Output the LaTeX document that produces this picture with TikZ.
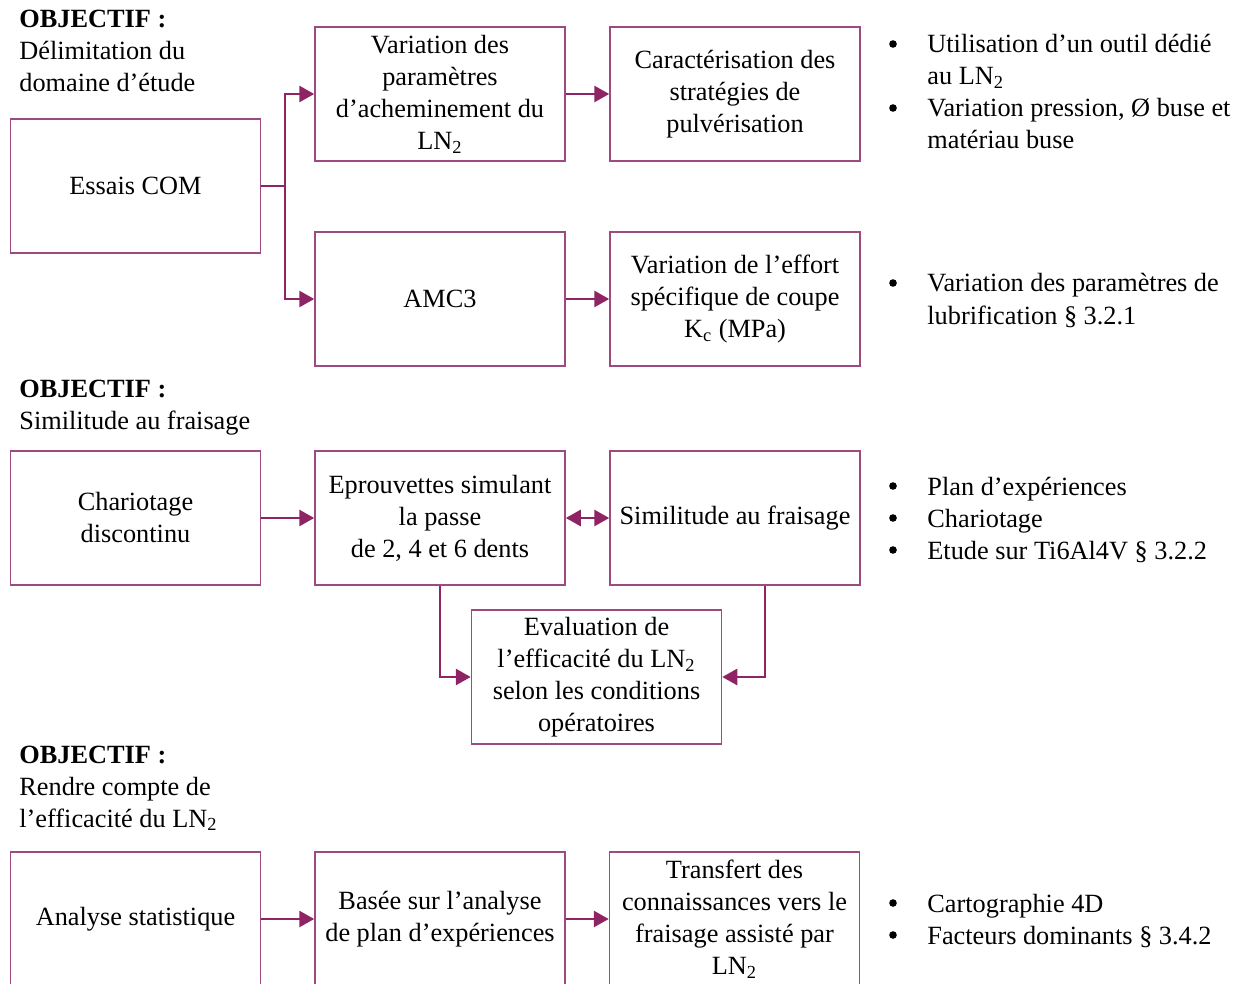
\documentclass[tikz,border=0pt]{standalone}
\usepackage{fontspec}
\setmainfont{Liberation Serif}
\usetikzlibrary{arrows.meta,calc}
\definecolor{plum}{HTML}{8E2464}
\definecolor{plumbox}{HTML}{9E4A80}
\newcommand{\LNdeux}{LN\textsubscript{2}}
\newcommand{\fsz}{\fontsize{13.15}{16}\selectfont}
\begin{document}
\begin{tikzpicture}[x=0.5pt,y=-0.5pt,
  box/.style={draw=plumbox,line width=0.75pt,minimum width=125pt,minimum height=67pt,inner sep=0pt,align=center,font=\fsz},
  arr/.style={draw=plum,line width=1.4pt,-{Triangle[length=7.5pt,width=8pt]}},
  darr/.style={draw=plum,line width=1.4pt,{Triangle[length=7.5pt,width=8pt]}-{Triangle[length=7.5pt,width=8pt]}},
  ln/.style={draw=plum,line width=1.4pt},
  txt/.style={anchor=base west,inner sep=0pt,font=\fsz},
  bul/.style={circle,fill=black,inner sep=0pt,minimum size=3.8pt}]
\useasboundingbox (0,0) rectangle (1247,984);

% headings
\node[txt,font=\fsz\bfseries] (h1a) at (19,28) {OBJECTIF :};
\node[txt] (h1b) at (19,60) {Délimitation du};
\node[txt] (h1c) at (19,92) {domaine d’étude};
\node[txt,font=\fsz\bfseries] (h2a) at (19,397) {OBJECTIF :};
\node[txt] (h2b) at (19,429) {Similitude au fraisage};
\node[txt,font=\fsz\bfseries] (h3a) at (19,763) {OBJECTIF :};
\node[txt] (h3b) at (19,795) {Rendre compte de};
\node[txt] (h3c) at (19,827) {l’efficacité du \LNdeux};

% boxes
\node[box] (com) at (135.5,186) {Essais COM};
\node[box] (var) at (440,94) {Variation des\\paramètres\\d’acheminement du\\\LNdeux};
\node[box] (car) at (735,94) {Caractérisation des\\stratégies de\\pulvérisation};
\node[box] (amc) at (440,299) {AMC3};
\node[box] (eff) at (735,299) {Variation de l’effort\\spécifique de coupe\\K\textsubscript{c} (MPa)};
\node[box] (cha) at (135.5,518) {Chariotage\\discontinu};
\node[box] (epr) at (440,518) {Eprouvettes simulant\\la passe\\de 2, 4 et 6 dents};
\node[box] (sim) at (735,518) {Similitude au fraisage};
\node[box] (eva) at (596.5,677) {Evaluation de\\l’efficacité du \LNdeux\\selon les conditions\\opératoires};
\node[box] (ana) at (135.5,919) {Analyse statistique};
\node[box] (bas) at (440,919) {Basée sur l’analyse\\de plan d’expériences};
\node[box] (tra) at (734.5,919) {Transfert des\\connaissances vers le\\fraisage assisté par\\\LNdeux};

% connectors
\coordinate (j) at (285,186);
\draw[ln] (com.east) -- (j);
\draw[arr] (j) |- (var.west);
\draw[arr] (j) |- (amc.west);
\draw[arr] (var.east) -- (car.west);
\draw[arr] (amc.east) -- (eff.west);
\draw[arr] (cha.east) -- (epr.west);
\draw[darr] (epr.east) -- (sim.west);
\draw[arr] (epr.south) |- (eva.west);
\draw[arr] ($(sim.south)+(30,0)$) |- (eva.east);
\draw[arr] (ana.east) -- (bas.west);
\draw[arr] (bas.east) -- (tra.west);

% bullets
\node[bul] (b1) at (893,44) {};
\node[txt] (t1a) at (927,53) {Utilisation d’un outil dédié};
\node[txt] (t1b) at (927,85) {au \LNdeux};
\node[bul] (b2) at (893,108) {};
\node[txt] (t2a) at (927,117) {Variation pression, Ø buse et};
\node[txt] (t2b) at (927,149) {matériau buse};
\node[bul] (b3) at (893,283) {};
\node[txt] (t3a) at (927,292) {Variation des paramètres de};
\node[txt] (t3b) at (927,324) {lubrification § 3.2.1};
\node[bul] (b4) at (893,486) {};
\node[txt] (t4) at (927,495) {Plan d’expériences};
\node[bul] (b5) at (893,518) {};
\node[txt] (t5) at (927,527) {Chariotage};
\node[bul] (b6) at (893,550) {};
\node[txt] (t6) at (927,559) {Etude sur Ti6Al4V § 3.2.2};
\node[bul] (b7) at (893,903) {};
\node[txt] (t7) at (927,912) {Cartographie 4D};
\node[bul] (b8) at (893,935) {};
\node[txt] (t8) at (927,944) {Facteurs dominants § 3.4.2};
\end{tikzpicture}
\end{document}
